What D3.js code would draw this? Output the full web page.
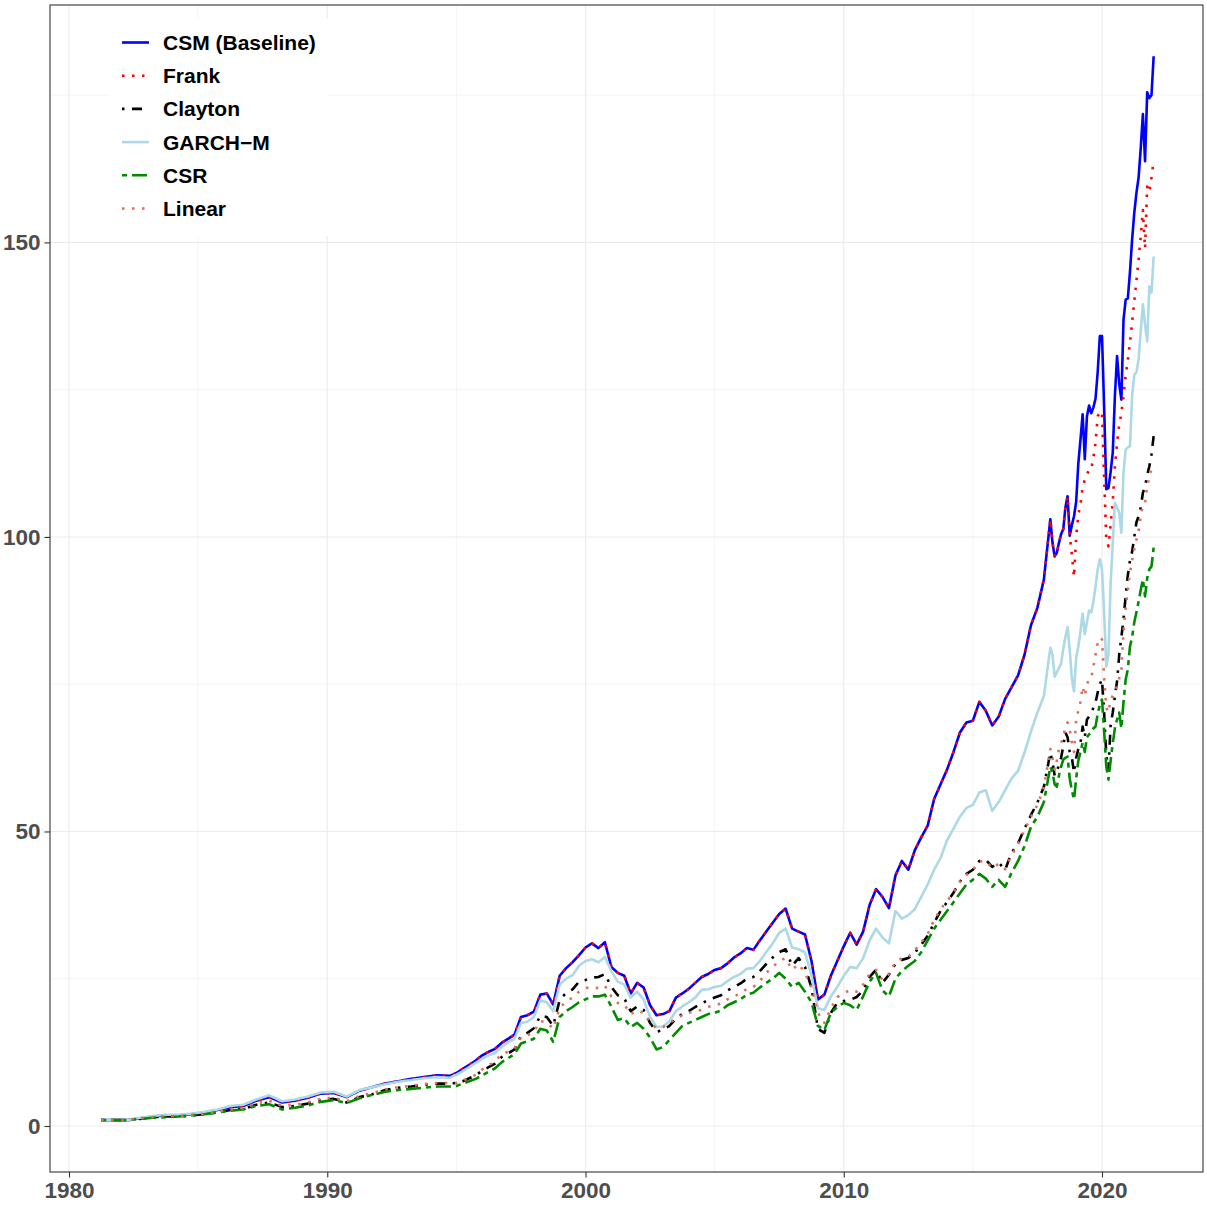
<!DOCTYPE html>
<html>
<head>
<meta charset="utf-8">
<script src="https://cdn.jsdelivr.net/npm/d3@7"></script>
<style>
  body { margin: 0; background: #fff; }
  svg { display: block; }
</style>
</head>
<body>
<svg id="chart" width="1207" height="1205"></svg>
<script>
// Sampling dates: half-yearly 1981-1994, quarterly 1995-2017, monthly 2018-2022
const dates = [
  ...d3.range(28).map(i => 1981.25 + i * 0.5),
  ...d3.range(92).map(i => 1995 + i * 0.25),
  ...d3.range(49).map(i => 2018 + i / 12)
];

// Cumulative wealth of each strategy
const csm = [
  1.0,1.0,1.0,1.3,1.6,1.8,1.8,2.0,2.3,2.7,3.2,3.4,4.3,4.9,4.0,4.3,4.8,5.5,5.6,4.9,6.0,6.6,7.2,7.6,8.0,8.3,8.6,8.5,
  9.0,9.7,10.4,11.1, 12.0,12.6,13.1,14.1, 14.8,15.5,18.5,18.8, 19.4,22.3,22.5,20.6,
  25.5,26.8,27.8,29.0, 30.3,31.0,30.2,31.2, 27.0,26.0,25.5,22.5, 24.3,23.5,20.5,18.8,
  19.0,19.5,21.8,22.5, 23.3,24.3,25.3,25.8, 26.5,26.8,27.6,28.6, 29.3,30.2,29.9,31.5,
  33.0,34.5,36.0,36.9, 33.5,33.0,32.5,28.0, 21.5,22.3,25.5,28.0, 30.5,32.8,30.8,33.0,
  37.5,40.2,38.9,37.0, 42.5,45.0,43.5,46.8, 49.0,51.0,55.5,58.0, 60.5,63.5,66.8,68.5,
  68.8,72.0,70.5,68.0, 69.5,72.5,74.5,76.5, 80.0,85.0,88.0,92.8,
  103.0,99.0,96.7,97.3,99.0,100.5,101.3,105.0,106.9,100.2,102.0,103.5,
  106.0,112.5,116.5,120.8,113.2,120.5,122.3,121.0,122.0,123.5,128.0,134.1,
  134.1,122.0,108.1,108.3,111.0,114.3,124.0,130.7,126.0,123.3,136.9,140.3,
  140.5,145.0,150.5,155.0,158.4,161.0,166.0,171.8,163.8,175.5,174.5,175.0,
  181.6
];

const frank = [
  1.0,1.0,1.0,1.3,1.6,1.8,1.8,2.0,2.3,2.7,3.2,3.4,4.3,4.9,4.0,4.3,4.8,5.5,5.6,4.9,6.0,6.6,7.2,7.6,8.0,8.3,8.6,8.5,
  9.0,9.7,10.4,11.1, 12.0,12.6,13.1,14.1, 14.8,15.5,18.5,18.8, 19.4,22.3,22.5,20.6,
  25.5,26.8,27.8,29.0, 30.3,31.0,30.2,31.2, 27.0,26.0,25.5,22.5, 24.3,23.5,20.5,18.8,
  19.0,19.5,21.8,22.5, 23.3,24.3,25.3,25.8, 26.5,26.8,27.6,28.6, 29.3,30.2,29.9,31.5,
  33.0,34.5,36.0,36.9, 33.5,33.0,32.5,28.0, 21.5,22.3,25.5,28.0, 30.5,32.8,30.8,33.0,
  37.5,40.2,38.9,37.0, 42.5,45.0,43.5,46.8, 49.0,51.0,55.5,58.0, 60.5,63.5,66.8,68.5,
  68.8,72.0,70.5,68.0, 69.5,72.5,74.5,76.5, 80.0,85.0,88.0,92.8,
  103.0,99.0,96.7,97.3,99.0,100.5,101.3,105.0,106.9,100.2,97.0,93.2,
  100.0,103.8,105.5,108.5,109.7,110.5,111.5,111.5,113.5,116.0,120.5,121.1,
  121.3,110.0,99.6,98.4,102.0,106.0,112.0,116.0,119.0,121.0,124.0,127.5,
  130.0,133.0,136.5,140.0,143.5,147.0,151.0,155.5,149.0,159.5,158.5,161.0,
  164.0
];

const clayton = [
  1.0,1.0,1.0,1.2,1.5,1.6,1.6,1.8,2.0,2.3,2.7,2.9,3.6,4.0,3.2,3.4,3.8,4.4,4.6,4.0,4.9,5.4,6.1,6.5,6.7,7.0,7.2,7.2,
  7.3,7.6,8.1,8.6, 9.4,10.0,10.6,11.7, 12.3,13.0,15.3,15.8, 16.6,18.7,18.5,17.0,
  21.4,22.6,23.2,24.5, 24.8,25.2,25.3,25.8, 23.6,22.2,21.7,19.5, 20.3,19.7,17.5,16.0,
  16.3,17.0,18.2,19.0, 19.5,20.2,20.8,21.4, 21.8,22.2,23.0,23.6, 24.2,25.0,25.3,26.3,
  27.5,28.6,29.5,30.0, 27.2,28.5,27.0,23.5, 16.5,15.8,19.2,20.9, 21.2,21.4,21.9,23.0,
  25.3,26.5,24.3,25.7, 27.5,28.2,28.5,29.4, 30.8,32.3,34.5,36.5, 38.0,39.6,41.5,42.8,
  43.5,45.0,45.2,44.0, 44.7,43.5,46.4,48.0, 50.5,52.8,54.9,57.6,
  63.4,61.8,59.5,60.0,61.5,62.5,64.5,66.8,66.0,63.5,62.5,60.0,
  62.5,64.0,65.0,67.8,66.0,69.0,69.5,70.0,71.0,71.9,73.6,75.0,
  75.8,70.0,63.0,60.5,68.0,70.2,73.0,75.5,80.0,83.0,86.0,90.0,
  93.5,96.0,97.5,100.0,102.5,103.5,105.0,107.5,108.5,110.5,112.0,114.0,
  117.1
];

const garch = [
  1.0,1.0,1.0,1.4,1.7,1.9,1.9,2.1,2.4,2.8,3.4,3.6,4.5,5.2,4.2,4.5,5.0,5.7,5.8,5.0,6.1,6.6,7.1,7.5,7.8,8.1,8.3,8.2,
  8.7,9.3,10.0,10.7, 11.4,12.0,12.4,13.4, 14.2,14.8,17.5,17.7, 18.5,21.3,21.0,19.5,
  24.0,25.0,25.6,27.2, 28.0,28.3,27.8,28.7, 26.3,24.5,24.0,21.8, 22.8,21.5,18.5,16.8,
  16.9,17.8,19.5,20.3, 21.0,21.8,23.1,23.2, 23.6,23.8,24.6,25.3, 25.8,26.7,26.8,28.0,
  29.5,31.0,32.8,33.5, 30.3,30.0,29.5,25.5, 20.0,19.7,22.0,23.6, 25.5,27.0,26.8,28.5,
  31.5,33.5,32.0,31.0, 36.5,35.2,35.8,36.8, 38.9,41.0,43.5,45.5, 48.5,50.5,52.5,54.0,
  54.5,56.6,57.0,53.5, 55.0,57.0,59.0,60.3, 63.4,67.0,70.2,73.0,
  81.2,80.0,76.3,77.0,77.8,78.5,81.0,83.0,84.7,80.8,76.0,73.8,
  79.5,81.4,84.0,87.0,83.5,85.5,87.5,87.2,89.0,91.6,94.5,96.2,
  94.5,87.0,78.0,80.0,92.0,99.0,105.8,105.0,104.1,100.7,111.0,114.8,
  115.2,115.4,124.0,127.5,128.0,130.1,135.0,139.5,136.0,133.2,142.5,141.5,
  147.6
];

const csr = [
  1.0,1.0,1.0,1.2,1.4,1.5,1.6,1.8,2.0,2.3,2.6,2.8,3.4,3.7,2.8,3.1,3.5,4.1,4.4,3.9,4.7,5.3,5.8,6.1,6.3,6.5,6.7,6.7,
  6.8,7.2,7.6,8.0, 8.6,9.2,9.8,10.8, 11.5,12.2,14.0,14.4, 14.8,16.5,16.2,14.3,
  18.5,19.5,20.2,21.0, 21.5,22.0,22.0,22.3, 20.3,18.0,18.3,16.8, 17.5,16.5,15.0,13.0,
  13.4,14.6,15.8,17.0, 17.5,18.0,18.5,19.0, 19.2,19.6,20.5,21.0, 21.5,22.3,22.6,23.5,
  24.3,25.0,26.0,25.0, 23.6,24.3,22.8,21.0, 17.0,16.3,19.2,20.2, 20.9,20.5,19.7,22.0,
  24.5,26.0,23.0,22.0, 25.0,26.3,27.2,28.0, 29.5,31.5,33.5,35.0, 36.5,38.0,39.5,41.0,
  41.8,42.8,42.0,40.6, 41.8,40.6,43.0,45.0, 47.5,50.8,52.5,55.0,
  61.0,60.0,58.0,57.6,59.5,61.0,62.2,62.5,62.7,59.0,57.0,55.4,
  59.0,62.0,63.5,65.1,63.5,66.0,66.5,66.8,67.5,67.8,70.0,71.5,
  72.4,67.0,61.0,58.8,62.0,65.0,67.5,69.0,70.2,67.5,72.0,75.8,
  77.5,81.4,83.0,85.5,87.2,89.0,91.0,92.8,89.9,93.0,94.5,95.0,
  98.2
];

const linear = [
  1.0,1.0,1.0,1.3,1.5,1.7,1.7,1.9,2.1,2.4,2.8,3.0,3.8,4.3,3.4,3.6,4.0,4.6,4.8,4.2,5.1,5.6,6.2,6.6,6.8,7.1,7.3,7.3,
  7.3,7.7,8.2,8.7, 9.6,10.3,11.0,12.2, 12.6,13.2,15.0,15.4, 16.0,17.8,17.6,16.5,
  20.0,21.2,21.8,22.8, 23.4,23.6,23.4,23.8, 22.0,20.9,20.6,19.0, 19.6,19.2,17.6,16.6,
  16.8,17.5,18.2,18.8, 19.2,19.5,19.7,20.2, 20.5,20.8,21.5,22.0, 22.5,23.3,23.6,24.6,
  26.0,27.0,28.0,28.5, 26.5,27.5,26.0,23.5, 19.2,17.5,20.0,21.9, 22.5,23.1,22.8,24.0,
  25.8,26.5,24.8,25.8, 27.8,28.5,28.7,29.8, 31.2,32.6,35.0,36.8, 38.2,39.6,41.5,42.6,
  43.4,44.9,45.0,43.8, 44.5,43.6,46.0,47.8, 50.2,52.5,54.5,57.5,
  64.0,62.5,60.5,62.0,64.0,65.0,66.0,67.8,68.5,67.3,65.0,63.5,
  69.0,70.5,72.0,74.6,73.0,75.0,75.8,76.0,78.0,80.0,82.0,82.9,
  82.6,76.0,71.0,70.2,72.4,73.0,74.0,74.6,76.0,77.5,84.0,88.0,
  91.0,94.0,96.0,98.0,99.5,101.0,103.5,105.5,105.8,108.6,110.3,111.5,
  112.3
];

const seriesNames = ["CSM (Baseline)", "Frank", "Clayton", "GARCH\u2212M", "CSR", "Linear"];
const seriesValues = [csm, frank, clayton, garch, csr, linear];

const xMajor = [1980, 1990, 2000, 2010, 2020];
const xMinor = [1985, 1995, 2005, 2015];
const yMajor = [0, 50, 100, 150];
const yMinor = [25, 75, 125, 175];

// ---- appearance ----
const LW = 2.6;   // stroke width
const U = 2.5;    // dash unit
const styles = [
  { color: "#0000FF", dash: null },
  { color: "#FF0000", dash: `${U} ${3 * U}` },                         // dotted
  { color: "#000000", dash: `${U} ${3 * U} ${4 * U} ${3 * U}` },       // dot-dash
  { color: "#ADD8E6", dash: null },
  { color: "#008B00", dash: `${2 * U} ${2 * U} ${6 * U} ${2 * U}` },   // two-dash
  { color: "#D9705A", dash: `${U} ${3 * U}` }                          // dotted
];

const panel = { left: 50, right: 1203, top: 5, bottom: 1172 };
const svg = d3.select("#chart");

const x = d3.scaleLinear().domain([1979.264, 2023.911]).range([panel.left, panel.right]);
const y = d3.scaleLinear().domain([-7.81, 190.3]).range([panel.bottom, panel.top]);

// panel background
svg.append("rect")
  .attr("x", panel.left).attr("y", panel.top)
  .attr("width", panel.right - panel.left).attr("height", panel.bottom - panel.top)
  .attr("fill", "#fff");

const grid = svg.append("g").attr("fill", "none").attr("stroke", "#EBEBEB");
grid.selectAll(".vminor").data(xMinor).join("line")
  .attr("x1", d => x(d)).attr("x2", d => x(d))
  .attr("y1", panel.top).attr("y2", panel.bottom).attr("stroke-width", 0.55);
grid.selectAll(".hminor").data(yMinor).join("line")
  .attr("y1", d => y(d)).attr("y2", d => y(d))
  .attr("x1", panel.left).attr("x2", panel.right).attr("stroke-width", 0.55);
grid.selectAll(".vmajor").data(xMajor).join("line")
  .attr("x1", d => x(d)).attr("x2", d => x(d))
  .attr("y1", panel.top).attr("y2", panel.bottom).attr("stroke-width", 1.1);
grid.selectAll(".hmajor").data(yMajor).join("line")
  .attr("y1", d => y(d)).attr("y2", d => y(d))
  .attr("x1", panel.left).attr("x2", panel.right).attr("stroke-width", 1.1);

// series lines
const line = d3.line().x((d, i) => x(dates[i])).y(d => y(d));
const linesG = svg.append("g").attr("fill", "none");
seriesValues.forEach((vals, k) => {
  linesG.append("path")
    .datum(vals)
    .attr("d", line)
    .attr("stroke", styles[k].color)
    .attr("stroke-width", LW)
    .attr("stroke-linejoin", "round")
    .attr("stroke-linecap", "butt")
    .attr("stroke-dasharray", styles[k].dash);
});

// panel border
svg.append("rect")
  .attr("x", panel.left).attr("y", panel.top)
  .attr("width", panel.right - panel.left).attr("height", panel.bottom - panel.top)
  .attr("fill", "none").attr("stroke", "#333333").attr("stroke-width", 1.1);

// axes
const axisFont = "'Liberation Sans', Arial, sans-serif";
const xAxis = svg.append("g")
  .attr("transform", `translate(0,${panel.bottom})`)
  .call(d3.axisBottom(x).tickValues(xMajor).tickFormat(d3.format("d")).tickSize(5.5).tickPadding(5));
const yAxis = svg.append("g")
  .attr("transform", `translate(${panel.left},0)`)
  .call(d3.axisLeft(y).tickValues(yMajor).tickSize(5.5).tickPadding(4));
[xAxis, yAxis].forEach(g => {
  g.select(".domain").remove();
  g.selectAll(".tick line").attr("stroke", "#333333").attr("stroke-width", 1.1);
  g.selectAll(".tick text")
    .attr("fill", "#4D4D4D")
    .style("font-family", axisFont)
    .style("font-weight", "bold")
    .style("font-size", "22.5px");
});

// legend
const legend = svg.append("g");
legend.append("rect")
  .attr("x", 108).attr("y", 19).attr("width", 220).attr("height", 217)
  .attr("fill", "#fff");
const rowY = d3.scaleLinear().domain([0, 5]).range([42.5, 208.5]);
seriesNames.forEach((name, k) => {
  const yy = rowY(k);
  legend.append("line")
    .attr("x1", 122).attr("x2", 149).attr("y1", yy).attr("y2", yy)
    .attr("stroke", styles[k].color).attr("stroke-width", LW)
    .attr("stroke-linecap", "butt")
    .attr("stroke-dasharray", styles[k].dash);
  legend.append("text")
    .attr("x", 163).attr("y", yy).attr("dy", "0.36em")
    .attr("fill", "#000")
    .style("font-family", axisFont)
    .style("font-weight", "bold")
    .style("font-size", "21px")
    .text(name);
});
</script>
</body>
</html>
